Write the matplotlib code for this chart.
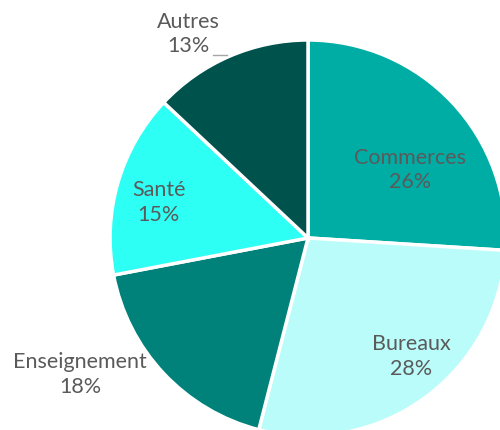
import matplotlib.pyplot as plt

labels = ["Commerces", "Bureaux", "Enseignement", "Santé", "Autres"]
shares = [26, 28, 18, 15, 13]
colors = ["#00ADA5", "#BAFCF9", "#00827A", "#2EFFF5", "#00524D"]

# label block centres (data units, pie radius = 1)
label_pos = [(0.515, 0.343), (0.52, -0.60), (-1.152, -0.69), (-0.755, 0.18), (-0.606, 1.03)]

plt.rcParams['font.family'] = ['Lato', 'DejaVu Sans']

fig = plt.figure(figsize=(5.0, 4.3), dpi=100)
ax = fig.add_axes([0, 0, 1, 1])
ax.pie(shares, colors=colors, startangle=90, counterclock=False,
       radius=1.0, wedgeprops=dict(edgecolor='white', linewidth=2.5))

for lab, val, (x, y) in zip(labels, shares, label_pos):
    ax.text(x, y, f"{lab}\n{val}%", ha='center', va='center',
            fontsize=15.5, color='#5a5a5a', linespacing=1.3)

# leader line for "Autres"
ax.plot([-0.48, -0.41], [0.922, 0.922], color='#a6a6a6', lw=1)

ax.set_aspect('auto')
ax.set_xlim(-1.556, 0.970)
ax.set_ylim(-0.970, 1.202)
ax.axis('off')

plt.savefig("out.png", dpi=100)
plt.close()
